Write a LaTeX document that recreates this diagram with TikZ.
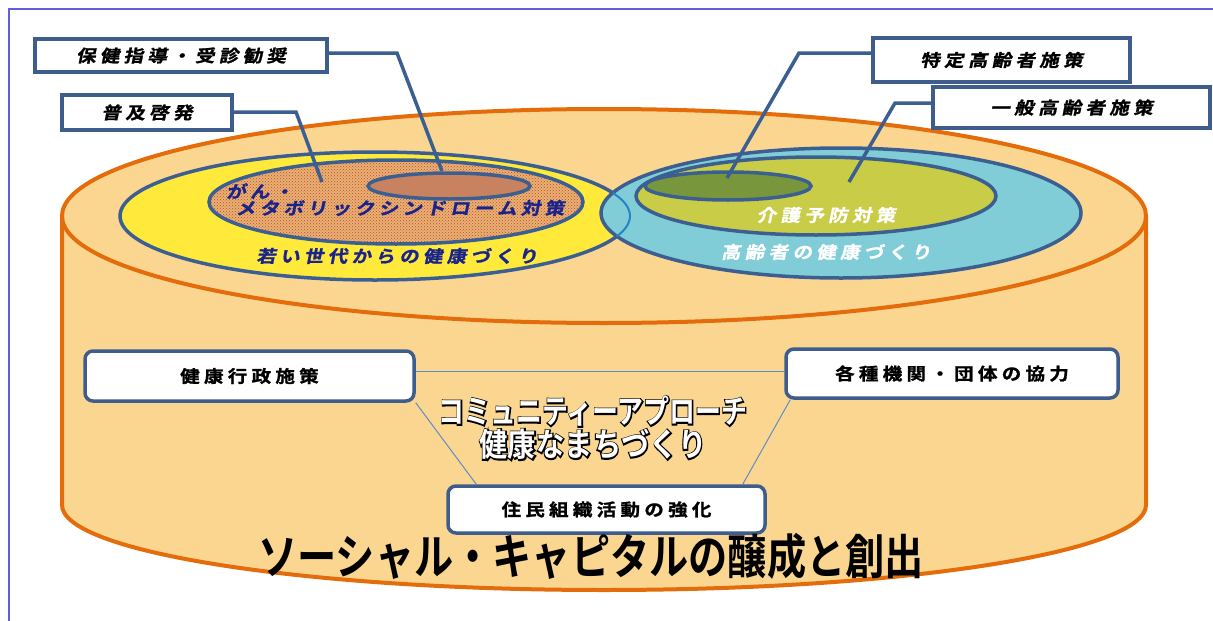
\documentclass[tikz,border=0pt]{standalone}
\usepackage{fontspec}
\usepackage{xcolor}
\usepackage{tikz}
\usetikzlibrary{shapes.geometric,patterns}

\setmainfont{Noto Sans CJK JP}
\newfontfamily\lblfont{Noto Sans CJK JP Bold}[LetterSpace=25,FakeStretch=1.15,FakeBold=1.2]
\newfontfamily\lblslant{Noto Sans CJK JP Bold}[LetterSpace=25,FakeStretch=1.15,FakeSlant=0.2,FakeBold=1.2]
\newfontfamily\headfont{Noto Sans CJK JP Bold}
\newfontfamily\edgefont{Noto Sans CJK JP Bold}[FakeBold=8]

\definecolor{framebl}{RGB}{95,95,220}
\definecolor{drumfill}{RGB}{250,214,145}
\definecolor{drumedge}{RGB}{228,108,10}
\definecolor{ring}{RGB}{60,95,145}
\definecolor{ringlight}{RGB}{40,130,200}
\definecolor{boxedge}{RGB}{62,92,140}
\definecolor{youngfill}{RGB}{255,234,60}
\definecolor{metabofill}{RGB}{232,178,110}
\definecolor{metabodot}{RGB}{190,70,70}
\definecolor{checkfill}{RGB}{200,130,95}
\definecolor{oldfill}{RGB}{128,205,215}
\definecolor{carefill}{RGB}{200,204,70}
\definecolor{specfill}{RGB}{120,150,60}
\definecolor{navytxt}{RGB}{25,35,140}
\definecolor{linkbl}{RGB}{95,140,200}

% white letters with a black rim
\newcommand\rimtext[1]{\rlap{\edgefont\color{black}#1}{\color{white}#1}}

\begin{document}
\begin{tikzpicture}[
  x=1pt, y=-1pt,
  oval/.style    ={ellipse, draw=ring, line width=3.5pt, inner sep=0pt},
  tag/.style     ={draw=boxedge, line width=3.5pt, fill=white, inner sep=0pt,
                   font={\lblslant\fontsize{17pt}{17pt}\selectfont}},
  pillar/.style  ={tag, rounded corners=8pt,
                   font={\lblfont\fontsize{17pt}{17pt}\selectfont}},
  inlbl/.style   ={inner sep=0pt, font={\lblslant\fontsize{17pt}{17pt}\selectfont}},
  lead/.style    ={draw=ring, line width=3.5pt},
  link/.style    ={draw=linkbl, line width=1pt},
]
\useasboundingbox (0,0) rectangle (1213,621);
\draw[framebl, line width=1.5pt] (9,621) -- (9,9) -- (1213,9);

% ---------------- the drum ------------------------------------------------
\fill[drumfill] (62,216) -- (62,505)
  arc[start angle=180, end angle=0, x radius=542, y radius=85] -- (1146,216) -- cycle;
\draw[drumedge, line width=4pt] (62,216) -- (62,505)
  arc[start angle=180, end angle=0, x radius=542, y radius=85] -- (1146,216);
\node[ellipse, draw=drumedge, line width=4pt, fill=drumfill, inner sep=0pt,
      minimum width=1084, minimum height=214] (drumtop) at (604,216) {};

% ---------------- young generation ----------------------------------------
\node[oval, fill=youngfill, minimum width=510, minimum height=128] (young) at (375,216) {};
\node[oval, preaction={fill=metabofill}, pattern=crosshatch dots, pattern color=metabodot,
      minimum width=374, minimum height=84] (metabo) at (396,202) {};
\node[oval, fill=checkfill, minimum width=162, minimum height=26] (check) at (449,186) {};

% ---------------- elderly -------------------------------------------------
\node[oval, fill=oldfill, minimum width=480, minimum height=130] (elder) at (841,213) {};
\begin{scope}
  \clip (841,213) ellipse [x radius=240, y radius=65];
  \draw[ringlight, line width=2pt] (375,216) ellipse [x radius=255, y radius=64];
\end{scope}
\node[oval, fill=carefill, minimum width=360, minimum height=78] (care) at (816,196) {};
\node[oval, fill=specfill, minimum width=166, minimum height=28] (spec) at (728,186) {};

\node[inlbl, text=navytxt, anchor=west] (gan)      at (226,191) {がん・};
\node[inlbl, text=navytxt]              (metlbl)   at (400,208) {メタボリックシンドローム対策};
\node[inlbl, text=navytxt]              (younglbl) at (397,256) {若い世代からの健康づくり};
\node[inlbl, text=white]                (carelbl)  at (826,215) {介護予防対策};
\node[inlbl, text=white]                (elderlbl) at (826,252) {高齢者の健康づくり};

% ---------------- call-outs -----------------------------------------------
\node[tag, minimum width=292, minimum height=33] (hoken)   at (181,55.5)     {保健指導・受診勧奨};
\node[tag, minimum width=170, minimum height=35] (fukyu)   at (147,112.5)    {普及啓発};
\node[tag, minimum width=257, minimum height=44] (tokutei) at (1001.5,60)    {特定高齢者施策};
\node[tag, minimum width=277, minimum height=41] (ippan)   at (1071.5,107.5) {一般高齢者施策};

\coordinate (hoken-bend)   at (397,53);
\coordinate (hoken-tip)    at (442,171);
\coordinate (fukyu-bend)   at (296,112);
\coordinate (fukyu-tip)    at (322,182);
\coordinate (tokutei-bend) at (799,53);
\coordinate (tokutei-tip)  at (727,178);
\coordinate (ippan-bend)   at (895,103);
\coordinate (ippan-tip)    at (849,182);

\draw[lead] (hoken.east |- hoken-bend) -- (hoken-bend) -- (hoken-tip);
\draw[lead] (fukyu.east |- fukyu-bend) -- (fukyu-bend) -- (fukyu-tip);
\draw[lead] (tokutei.west |- tokutei-bend) -- (tokutei-bend) -- (tokutei-tip);
\draw[lead] (ippan.west |- ippan-bend) -- (ippan-bend) -- (ippan-tip);

% ---------------- community approach --------------------------------------
\node[pillar, minimum width=329, minimum height=50] (gyosei) at (249.5,376)   {健康行政施策};
\node[pillar, minimum width=332, minimum height=49] (kikan)  at (952,373.5)   {各種機関・団体の協力};
\node[pillar, minimum width=317, minimum height=47] (jumin)  at (606.5,509.5) {住民組織活動の強化};

\draw[link] ([yshift=5pt]gyosei.east) -- ([yshift=2.5pt]kikan.west);
\draw[link] (gyosei.south east) -- ([xshift=30pt]jumin.north west);
\draw[link] ([xshift=6pt]kikan.south west) -- ([xshift=-24pt]jumin.north east);

\node[inner sep=0pt, align=center,
      font={\headfont\fontsize{27pt}{33pt}\selectfont}] (approach) at (593,428)
  {\scalebox{0.96}[1.2]{\rimtext{コミュニティーアプローチ}}\\
   \scalebox{1.05}[1.2]{\rimtext{健康なまちづくり}}};

\node[inner sep=0pt, font={\headfont\fontsize{40pt}{40pt}\selectfont}] (capital) at (591,556)
  {\scalebox{0.98}[1.2]{ソーシャル・キャピタルの醸成と創出}};

\end{tikzpicture}
\end{document}
